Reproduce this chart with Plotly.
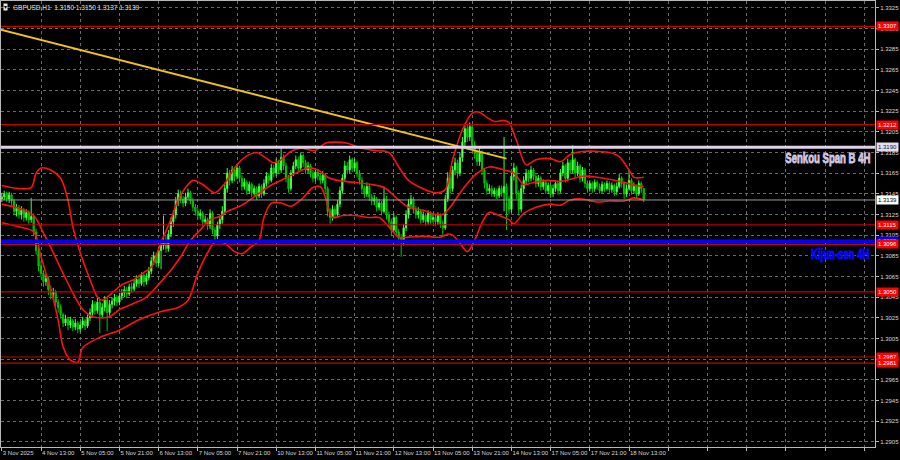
import plotly.graph_objects as go

symbol = "GBPUSD,H1"

bar_open = [
    1.3140, 1.3142, 1.3145, 1.3140, 1.3144, 1.3138, 1.3128, 1.3131, 1.3125, 1.3129,
    1.3122, 1.3127, 1.3120, 1.3123, 1.3108, 1.3090, 1.3075, 1.3068, 1.3060, 1.3063,
    1.3052, 1.3048, 1.3050, 1.3040, 1.3035, 1.3028, 1.3020, 1.3024, 1.3018, 1.3022,
    1.3016, 1.3020, 1.3014, 1.3018, 1.3022, 1.3017, 1.3025, 1.3030, 1.3038, 1.3032,
    1.3040, 1.3028, 1.3035, 1.3042, 1.3030, 1.3038, 1.3041, 1.3044, 1.3040, 1.3046,
    1.3049, 1.3052, 1.3048, 1.3055, 1.3053, 1.3058, 1.3062, 1.3058, 1.3066, 1.3060,
    1.3064, 1.3070, 1.3080, 1.3085, 1.3078, 1.3090, 1.3095, 1.3100, 1.3092, 1.3106,
    1.3118, 1.3125, 1.3138, 1.3145, 1.3140, 1.3136, 1.3142, 1.3146, 1.3138, 1.3132,
    1.3128, 1.3124, 1.3126, 1.3118, 1.3120, 1.3114, 1.3126, 1.3110, 1.3104, 1.3115,
    1.3120, 1.3128, 1.3150, 1.3165, 1.3158, 1.3168, 1.3162, 1.3170, 1.3160, 1.3152,
    1.3156, 1.3148, 1.3154, 1.3146, 1.3150, 1.3143, 1.3152, 1.3145, 1.3155, 1.3162,
    1.3158, 1.3170, 1.3165, 1.3175, 1.3168, 1.3180, 1.3172, 1.3160, 1.3150, 1.3165,
    1.3172, 1.3178, 1.3170, 1.3182, 1.3175, 1.3168, 1.3172, 1.3165, 1.3160, 1.3166,
    1.3162, 1.3158, 1.3163, 1.3150, 1.3128, 1.3122, 1.3130, 1.3125, 1.3135, 1.3148,
    1.3160, 1.3172, 1.3168, 1.3178, 1.3170, 1.3175, 1.3165, 1.3158, 1.3150, 1.3145,
    1.3152, 1.3142, 1.3138, 1.3140, 1.3132, 1.3136, 1.3128, 1.3140, 1.3125, 1.3118,
    1.3110, 1.3122, 1.3108, 1.3102, 1.3098, 1.3112, 1.3125, 1.3135, 1.3140, 1.3130,
    1.3125, 1.3128, 1.3120, 1.3124, 1.3118, 1.3126, 1.3120, 1.3122, 1.3118, 1.3124,
    1.3116, 1.3112, 1.3140, 1.3160, 1.3150, 1.3168, 1.3175, 1.3165, 1.3180, 1.3195,
    1.3208, 1.3200, 1.3210, 1.3192, 1.3184, 1.3176, 1.3185, 1.3168, 1.3155, 1.3148,
    1.3150, 1.3145, 1.3148, 1.3143, 1.3150, 1.3146, 1.3152, 1.3140, 1.3130, 1.3162,
    1.3170, 1.3145, 1.3130, 1.3150, 1.3158, 1.3165, 1.3160, 1.3168, 1.3162, 1.3155,
    1.3160, 1.3152, 1.3156, 1.3148, 1.3153, 1.3145, 1.3150, 1.3155, 1.3148, 1.3165,
    1.3172, 1.3160, 1.3175, 1.3168, 1.3178, 1.3165, 1.3172, 1.3160, 1.3168, 1.3155,
    1.3150, 1.3155, 1.3150, 1.3156, 1.3152, 1.3148, 1.3154, 1.3150, 1.3155, 1.3149,
    1.3153, 1.3147, 1.3152, 1.3160, 1.3155, 1.3145, 1.3150, 1.3158, 1.3148, 1.3152,
    1.3145, 1.3155, 1.3150,
]

bar_high = [
    1.3146, 1.3148, 1.3147, 1.3147, 1.3146, 1.3140, 1.3135, 1.3134, 1.3133, 1.3131,
    1.3130, 1.3129, 1.3141, 1.3126, 1.3111, 1.3094, 1.3080, 1.3071, 1.3067, 1.3065,
    1.3056, 1.3054, 1.3052, 1.3043, 1.3038, 1.3030, 1.3028, 1.3026, 1.3026, 1.3024,
    1.3024, 1.3022, 1.3021, 1.3026, 1.3024, 1.3028, 1.3034, 1.3042, 1.3041, 1.3045,
    1.3043, 1.3039, 1.3046, 1.3044, 1.3042, 1.3045, 1.3048, 1.3047, 1.3049, 1.3053,
    1.3056, 1.3055, 1.3058, 1.3059, 1.3062, 1.3066, 1.3065, 1.3069, 1.3068, 1.3068,
    1.3074, 1.3084, 1.3089, 1.3088, 1.3094, 1.3099, 1.3124, 1.3104, 1.3110, 1.3122,
    1.3129, 1.3142, 1.3149, 1.3148, 1.3143, 1.3146, 1.3150, 1.3148, 1.3141, 1.3135,
    1.3131, 1.3130, 1.3128, 1.3124, 1.3122, 1.3130, 1.3128, 1.3113, 1.3118, 1.3124,
    1.3133, 1.3154, 1.3170, 1.3168, 1.3172, 1.3171, 1.3174, 1.3172, 1.3163, 1.3160,
    1.3158, 1.3157, 1.3156, 1.3153, 1.3152, 1.3155, 1.3154, 1.3159, 1.3166, 1.3165,
    1.3174, 1.3173, 1.3179, 1.3178, 1.3189, 1.3183, 1.3175, 1.3163, 1.3168, 1.3176,
    1.3182, 1.3181, 1.3185, 1.3184, 1.3178, 1.3176, 1.3174, 1.3168, 1.3170, 1.3169,
    1.3165, 1.3167, 1.3165, 1.3152, 1.3131, 1.3134, 1.3133, 1.3139, 1.3152, 1.3164,
    1.3177, 1.3176, 1.3182, 1.3180, 1.3179, 1.3177, 1.3168, 1.3161, 1.3153, 1.3156,
    1.3154, 1.3145, 1.3144, 1.3142, 1.3140, 1.3138, 1.3152, 1.3143, 1.3128, 1.3121,
    1.3126, 1.3124, 1.3111, 1.3106, 1.3116, 1.3129, 1.3140, 1.3144, 1.3142, 1.3133,
    1.3132, 1.3130, 1.3128, 1.3126, 1.3129, 1.3128, 1.3126, 1.3125, 1.3127, 1.3126,
    1.3119, 1.3144, 1.3166, 1.3163, 1.3172, 1.3180, 1.3178, 1.3185, 1.3200, 1.3213,
    1.3212, 1.3214, 1.3213, 1.3196, 1.3188, 1.3190, 1.3187, 1.3170, 1.3158, 1.3154,
    1.3153, 1.3151, 1.3150, 1.3153, 1.3153, 1.3200, 1.3155, 1.3143, 1.3166, 1.3175,
    1.3172, 1.3148, 1.3154, 1.3162, 1.3169, 1.3168, 1.3172, 1.3170, 1.3164, 1.3163,
    1.3162, 1.3159, 1.3158, 1.3156, 1.3155, 1.3154, 1.3158, 1.3157, 1.3169, 1.3176,
    1.3174, 1.3179, 1.3178, 1.3192, 1.3180, 1.3176, 1.3174, 1.3171, 1.3170, 1.3158,
    1.3158, 1.3157, 1.3159, 1.3158, 1.3155, 1.3157, 1.3156, 1.3158, 1.3157, 1.3156,
    1.3155, 1.3156, 1.3164, 1.3162, 1.3157, 1.3154, 1.3168, 1.3160, 1.3156, 1.3154,
    1.3158, 1.3157, 1.3150,
]

bar_low = [
    1.3137, 1.3139, 1.3137, 1.3136, 1.3134, 1.3124, 1.3123, 1.3121, 1.3120, 1.3118,
    1.3119, 1.3116, 1.3117, 1.3104, 1.3086, 1.3070, 1.3064, 1.3055, 1.3056, 1.3047,
    1.3043, 1.3044, 1.3036, 1.3030, 1.3024, 1.3016, 1.3017, 1.3013, 1.3015, 1.3012,
    1.3013, 1.3010, 1.3011, 1.3015, 1.3013, 1.3015, 1.3022, 1.3027, 1.3028, 1.3029,
    1.3010, 1.3024, 1.3031, 1.3012, 1.3027, 1.3034, 1.3037, 1.3036, 1.3037, 1.3042,
    1.3045, 1.3044, 1.3046, 1.3049, 1.3050, 1.3055, 1.3054, 1.3056, 1.3055, 1.3057,
    1.3061, 1.3067, 1.3076, 1.3074, 1.3075, 1.3072, 1.3091, 1.3088, 1.3089, 1.3103,
    1.3113, 1.3121, 1.3133, 1.3136, 1.3132, 1.3133, 1.3139, 1.3135, 1.3128, 1.3124,
    1.3120, 1.3120, 1.3114, 1.3115, 1.3110, 1.3111, 1.3106, 1.3099, 1.3101, 1.3111,
    1.3116, 1.3125, 1.3146, 1.3153, 1.3155, 1.3157, 1.3159, 1.3156, 1.3148, 1.3149,
    1.3144, 1.3145, 1.3142, 1.3143, 1.3139, 1.3141, 1.3141, 1.3143, 1.3152, 1.3154,
    1.3156, 1.3161, 1.3162, 1.3164, 1.3165, 1.3168, 1.3156, 1.3146, 1.3148, 1.3162,
    1.3169, 1.3166, 1.3168, 1.3171, 1.3164, 1.3165, 1.3161, 1.3156, 1.3157, 1.3158,
    1.3154, 1.3155, 1.3146, 1.3123, 1.3116, 1.3119, 1.3121, 1.3122, 1.3132, 1.3145,
    1.3157, 1.3164, 1.3165, 1.3166, 1.3167, 1.3161, 1.3154, 1.3146, 1.3141, 1.3142,
    1.3138, 1.3134, 1.3134, 1.3128, 1.3129, 1.3124, 1.3126, 1.3120, 1.3113, 1.3104,
    1.3107, 1.3104, 1.3097, 1.3084, 1.3095, 1.3109, 1.3121, 1.3130, 1.3126, 1.3121,
    1.3121, 1.3116, 1.3117, 1.3114, 1.3115, 1.3116, 1.3117, 1.3114, 1.3115, 1.3112,
    1.3104, 1.3110, 1.3137, 1.3145, 1.3147, 1.3163, 1.3160, 1.3162, 1.3176, 1.3191,
    1.3195, 1.3196, 1.3188, 1.3179, 1.3172, 1.3172, 1.3163, 1.3150, 1.3144, 1.3145,
    1.3142, 1.3142, 1.3140, 1.3141, 1.3142, 1.3128, 1.3110, 1.3125, 1.3127, 1.3158,
    1.3140, 1.3124, 1.3127, 1.3146, 1.3154, 1.3156, 1.3157, 1.3158, 1.3151, 1.3152,
    1.3148, 1.3149, 1.3145, 1.3145, 1.3141, 1.3142, 1.3147, 1.3144, 1.3146, 1.3162,
    1.3156, 1.3157, 1.3164, 1.3165, 1.3161, 1.3162, 1.3156, 1.3157, 1.3151, 1.3146,
    1.3147, 1.3146, 1.3147, 1.3149, 1.3145, 1.3146, 1.3147, 1.3148, 1.3146, 1.3146,
    1.3143, 1.3144, 1.3150, 1.3151, 1.3140, 1.3142, 1.3148, 1.3144, 1.3145, 1.3140,
    1.3143, 1.3146, 1.3137,
]

bar_close = [
    1.3142, 1.3145, 1.3140, 1.3144, 1.3138, 1.3128, 1.3131, 1.3125, 1.3129, 1.3122,
    1.3127, 1.3120, 1.3123, 1.3108, 1.3090, 1.3075, 1.3068, 1.3060, 1.3063, 1.3052,
    1.3048, 1.3050, 1.3040, 1.3035, 1.3028, 1.3020, 1.3024, 1.3018, 1.3022, 1.3016,
    1.3020, 1.3014, 1.3018, 1.3022, 1.3017, 1.3025, 1.3030, 1.3038, 1.3032, 1.3040,
    1.3028, 1.3035, 1.3042, 1.3030, 1.3038, 1.3041, 1.3044, 1.3040, 1.3046, 1.3049,
    1.3052, 1.3048, 1.3055, 1.3053, 1.3058, 1.3062, 1.3058, 1.3066, 1.3060, 1.3064,
    1.3070, 1.3080, 1.3085, 1.3078, 1.3090, 1.3095, 1.3100, 1.3092, 1.3106, 1.3118,
    1.3125, 1.3138, 1.3145, 1.3140, 1.3136, 1.3142, 1.3146, 1.3138, 1.3132, 1.3128,
    1.3124, 1.3126, 1.3118, 1.3120, 1.3114, 1.3126, 1.3110, 1.3104, 1.3115, 1.3120,
    1.3128, 1.3150, 1.3165, 1.3158, 1.3168, 1.3162, 1.3170, 1.3160, 1.3152, 1.3156,
    1.3148, 1.3154, 1.3146, 1.3150, 1.3143, 1.3152, 1.3145, 1.3155, 1.3162, 1.3158,
    1.3170, 1.3165, 1.3175, 1.3168, 1.3180, 1.3172, 1.3160, 1.3150, 1.3165, 1.3172,
    1.3178, 1.3170, 1.3182, 1.3175, 1.3168, 1.3172, 1.3165, 1.3160, 1.3166, 1.3162,
    1.3158, 1.3163, 1.3150, 1.3128, 1.3122, 1.3130, 1.3125, 1.3135, 1.3148, 1.3160,
    1.3172, 1.3168, 1.3178, 1.3170, 1.3175, 1.3165, 1.3158, 1.3150, 1.3145, 1.3152,
    1.3142, 1.3138, 1.3140, 1.3132, 1.3136, 1.3128, 1.3140, 1.3125, 1.3118, 1.3110,
    1.3122, 1.3108, 1.3102, 1.3098, 1.3112, 1.3125, 1.3135, 1.3140, 1.3130, 1.3125,
    1.3128, 1.3120, 1.3124, 1.3118, 1.3126, 1.3120, 1.3122, 1.3118, 1.3124, 1.3116,
    1.3112, 1.3140, 1.3160, 1.3150, 1.3168, 1.3175, 1.3165, 1.3180, 1.3195, 1.3208,
    1.3200, 1.3210, 1.3192, 1.3184, 1.3176, 1.3185, 1.3168, 1.3155, 1.3148, 1.3150,
    1.3145, 1.3148, 1.3143, 1.3150, 1.3146, 1.3152, 1.3140, 1.3130, 1.3162, 1.3170,
    1.3145, 1.3130, 1.3150, 1.3158, 1.3165, 1.3160, 1.3168, 1.3162, 1.3155, 1.3160,
    1.3152, 1.3156, 1.3148, 1.3153, 1.3145, 1.3150, 1.3155, 1.3148, 1.3165, 1.3172,
    1.3160, 1.3175, 1.3168, 1.3178, 1.3165, 1.3172, 1.3160, 1.3168, 1.3155, 1.3150,
    1.3155, 1.3150, 1.3156, 1.3152, 1.3148, 1.3154, 1.3150, 1.3155, 1.3149, 1.3153,
    1.3147, 1.3152, 1.3160, 1.3155, 1.3145, 1.3150, 1.3158, 1.3148, 1.3152, 1.3145,
    1.3155, 1.3150, 1.3139,
]

# time-axis labels, one every 16 hourly bars (last ones are the empty future area)
x_tick_labels = [
    "3 Nov 2025", "4 Nov 13:00", "5 Nov 05:00", "5 Nov 21:00", "6 Nov 13:00",
    "7 Nov 05:00", "7 Nov 21:00", "10 Nov 13:00", "11 Nov 05:00", "11 Nov 21:00",
    "12 Nov 13:00", "13 Nov 05:00", "13 Nov 21:00", "14 Nov 13:00", "17 Nov 05:00",
    "17 Nov 21:00", "18 Nov 13:00", "", "", "", "", "", "",
]

# Bollinger-style red bands, read at sample bars
upper_idx = [0, 7, 12, 14, 16, 20, 24, 27, 29, 32, 36, 39, 41, 45, 49, 54, 58, 61, 65, 69,
             72, 76, 78, 82, 87, 91, 95, 99, 104, 107, 111, 114, 118, 122, 128, 132, 136, 141, 147, 152,
             158, 162, 166, 170, 177, 181, 184, 188, 192, 195, 198, 201, 205, 207, 210, 214, 218, 224, 228, 232,
             237, 243, 248, 252, 256, 258, 262]
upper_band = [1.3153, 1.3150, 1.3151, 1.3165, 1.3170, 1.3168, 1.3160, 1.3139, 1.3113, 1.3088,
              1.3062, 1.3045, 1.3042, 1.3049, 1.3057, 1.3062, 1.3069, 1.3074, 1.3098, 1.3120,
              1.3139, 1.3154, 1.3158, 1.3154, 1.3146, 1.3155, 1.3170, 1.3180, 1.3185, 1.3181,
              1.3175, 1.3178, 1.3186, 1.3189, 1.3187, 1.3194, 1.3195, 1.3194, 1.3189, 1.3187,
              1.3185, 1.3171, 1.3158, 1.3152, 1.3146, 1.3149, 1.3178, 1.3207, 1.3223, 1.3224,
              1.3219, 1.3215, 1.3216, 1.3214, 1.3197, 1.3173, 1.3178, 1.3179, 1.3176, 1.3183,
              1.3186, 1.3186, 1.3185, 1.3181, 1.3168, 1.3161, 1.3161]

mid_idx = [0, 7, 13, 17, 21, 25, 29, 33, 37, 41, 44, 48, 54, 59, 65, 69, 73, 77, 81, 85,
           89, 92, 98, 103, 109, 114, 120, 125, 129, 133, 137, 144, 151, 156, 162, 166, 172, 177, 180, 183,
           188, 194, 199, 205, 209, 213, 217, 223, 228, 232, 237, 243, 248, 254, 259, 262]
mid_band = [1.3135, 1.3131, 1.3124, 1.3107, 1.3088, 1.3068, 1.3049, 1.3033, 1.3026, 1.3025,
            1.3026, 1.3033, 1.3039, 1.3045, 1.3060, 1.3071, 1.3084, 1.3100, 1.3110, 1.3120,
            1.3123, 1.3128, 1.3134, 1.3142, 1.3152, 1.3158, 1.3165, 1.3170, 1.3168, 1.3161,
            1.3158, 1.3156, 1.3154, 1.3151, 1.3139, 1.3132, 1.3129, 1.3125, 1.3125, 1.3132,
            1.3149, 1.3165, 1.3171, 1.3168, 1.3165, 1.3154, 1.3156, 1.3158, 1.3157, 1.3159,
            1.3162, 1.3161, 1.3159, 1.3156, 1.3153, 1.3152]

low_idx = [0, 7, 13, 16, 20, 23, 25, 28, 31, 33, 40, 48, 56, 65, 72, 76, 80, 84, 87, 91,
           95, 98, 102, 105, 107, 110, 114, 118, 122, 127, 130, 132, 135, 139, 144, 150, 154, 158, 162, 166,
           172, 179, 182, 184, 187, 190, 193, 196, 199, 203, 207, 209, 213, 218, 224, 228, 232, 237, 243, 248,
           254, 258, 262]
lower_band = [1.3117, 1.3113, 1.3108, 1.3084, 1.3052, 1.3023, 1.2997, 1.2984, 1.2982, 1.2996,
              1.3006, 1.3013, 1.3023, 1.3031, 1.3035, 1.3042, 1.3068, 1.3088, 1.3098, 1.3097,
              1.3089, 1.3087, 1.3094, 1.3100, 1.3122, 1.3136, 1.3136, 1.3133, 1.3139, 1.3151,
              1.3152, 1.3142, 1.3122, 1.3124, 1.3124, 1.3122, 1.3122, 1.3113, 1.3103, 1.3103,
              1.3104, 1.3103, 1.3106, 1.3105, 1.3097, 1.3089, 1.3100, 1.3117, 1.3127, 1.3124,
              1.3120, 1.3116, 1.3126, 1.3132, 1.3135, 1.3134, 1.3139, 1.3140, 1.3137, 1.3138,
              1.3138, 1.3141, 1.3139]

red_levels = [1.3307, 1.3212, 1.3115, 1.3096, 1.3050, 1.2987, 1.2981]
senkou_span_b = 1.3190
kijun_sen = 1.3099
trend_idx = [-0.7, 206]
trend_price = [1.3304, 1.3179]

# ------------------------------------------------------------------
FONT = "Liberation Sans, Arial, sans-serif"
n = len(bar_close)
xs = list(range(n))
bars_per_label = 16
tick_pos = [i * bars_per_label for i in range(len(x_tick_labels))]

fig = go.Figure()

fig.add_trace(go.Candlestick(
    x=xs, open=bar_open, high=bar_high, low=bar_low, close=bar_close,
    increasing=dict(line=dict(color="#3cff3c", width=1), fillcolor="#a6ffa6"),
    decreasing=dict(line=dict(color="#00c800", width=1), fillcolor="#00a000"),
    whiskerwidth=0, hoverinfo="skip", showlegend=False,
))

for bx, by in [(upper_idx, upper_band), (mid_idx, mid_band), (low_idx, lower_band)]:
    fig.add_trace(go.Scatter(
        x=bx, y=by, mode="lines", hoverinfo="skip", showlegend=False,
        line=dict(color="#ff1010", width=1.6, shape="spline", smoothing=0.9),
    ))

fig.add_trace(go.Scatter(
    x=trend_idx, y=trend_price, mode="lines", hoverinfo="skip", showlegend=False,
    line=dict(color="#f2c418", width=1.8),
))

shapes = []
for lv in red_levels:
    shapes.append(dict(type="line", xref="paper", x0=0, x1=1, yref="y", y0=lv, y1=lv,
                       line=dict(color="#c80000", width=1.2)))
shapes.append(dict(type="line", xref="paper", x0=0, x1=1, yref="y",
                   y0=bar_close[-1], y1=bar_close[-1], line=dict(color="#9a9a9a", width=1)))
shapes.append(dict(type="line", xref="paper", x0=0, x1=1, yref="y",
                   y0=senkou_span_b, y1=senkou_span_b, line=dict(color="#e0d2ea", width=3)))
shapes.append(dict(type="line", xref="paper", x0=0, x1=1, yref="y",
                   y0=kijun_sen, y1=kijun_sen, line=dict(color="#0000ff", width=3.5)))


def price_box(level, bg, fg):
    return dict(x=1, xref="paper", xanchor="left", xshift=1, y=level, yref="y",
                yanchor="middle", text=f"{level:.4f}", showarrow=False, bgcolor=bg,
                borderpad=1, font=dict(size=6, color=fg, family=FONT))


annotations = []
annotations.append(price_box(senkou_span_b, "#e4dcee", "#202020"))
annotations.append(price_box(bar_close[-1], "#ffffff", "#000000"))
annotations.append(price_box(kijun_sen, "#0000ff", "#ffffff"))
for lv in red_levels:
    annotations.append(price_box(lv, "#ff0000", "#ffffff"))

annotations.append(dict(x=1, xref="paper", xanchor="right", xshift=-3, y=1.3180, yref="y",
                        yanchor="middle", text="<b>Senkou Span B 4H</b>", showarrow=False,
                        font=dict(size=14, color="#d2c6e0", family=FONT)))
annotations.append(dict(x=1, xref="paper", xanchor="right", xshift=-3, y=1.3087, yref="y",
                        yanchor="middle", text="<b>Kijun-sen 4H</b>", showarrow=False,
                        font=dict(size=14, color="#0a0aff", family=FONT)))

title_text = f"{symbol}  {bar_open[-1]:.4f} {bar_high[-1]:.4f} {bar_low[-1]:.4f} {bar_close[-1]:.4f}"
annotations.append(dict(x=0, xref="paper", xanchor="left", xshift=2, y=1, yref="paper",
                        yanchor="top", yshift=-2, text="▾", showarrow=False, bgcolor="#e8e8e8",
                        borderpad=0, font=dict(size=6, color="#000000", family=FONT)))
annotations.append(dict(x=0, xref="paper", xanchor="left", xshift=10, y=1, yref="paper",
                        yanchor="top", yshift=-1, text=title_text, showarrow=False,
                        font=dict(size=6.5, color="#e0e0e0", family=FONT)))

fig.update_layout(
    width=900, height=460,
    margin=dict(l=1, r=25, t=1, b=13),
    paper_bgcolor="#000000", plot_bgcolor="#000000",
    showlegend=False,
    shapes=shapes, annotations=annotations,
    xaxis=dict(
        range=[-0.33, 356.4], tickmode="array", tickvals=tick_pos, ticktext=x_tick_labels,
        ticks="outside", ticklen=3, tickcolor="#b8b8b8", tickangle=0,
        ticklabelposition="outside right",
        tickfont=dict(size=6, color="#d8d8d8", family=FONT),
        showgrid=True, gridcolor="#6a6a6a", gridwidth=1, griddash="3px,3px",
        showline=True, linecolor="#b8b8b8", linewidth=1, mirror=True,
        zeroline=False, rangeslider=dict(visible=False), fixedrange=True,
    ),
    yaxis=dict(
        side="right", range=[1.28999, 1.33316], tickmode="linear", tick0=1.2905, dtick=0.002,
        tickformat=".4f", ticks="outside", ticklen=3, tickcolor="#b8b8b8",
        tickfont=dict(size=6, color="#d8d8d8", family=FONT),
        showgrid=True, gridcolor="#6a6a6a", gridwidth=1, griddash="3px,3px",
        showline=True, linecolor="#b8b8b8", linewidth=1, mirror=True,
        zeroline=False, fixedrange=True,
    ),
)

# squeeze the two indicator captions horizontally (condensed heavy look), keeping their right edge
post_js = """
document.body.style.margin='0';
document.body.style.background='#000';
var gd = document.getElementById('{plot_id}');
gd.querySelectorAll('text.annotation-text').forEach(function(t){
  if (t.textContent.indexOf('4H') >= 0) {
    var b = t.getBBox();
    var r = b.x + b.width;
    t.setAttribute('transform', 'translate(' + r + ',0) scale(0.685,1) translate(' + (-r) + ',0)');
    var col = t.style.fill || t.getAttribute('fill');
    t.style.stroke = col;
    t.style.strokeWidth = '0.9px';
  }
});
"""

fig.write_html("out.html", config={"displayModeBar": False}, post_script=post_js)
